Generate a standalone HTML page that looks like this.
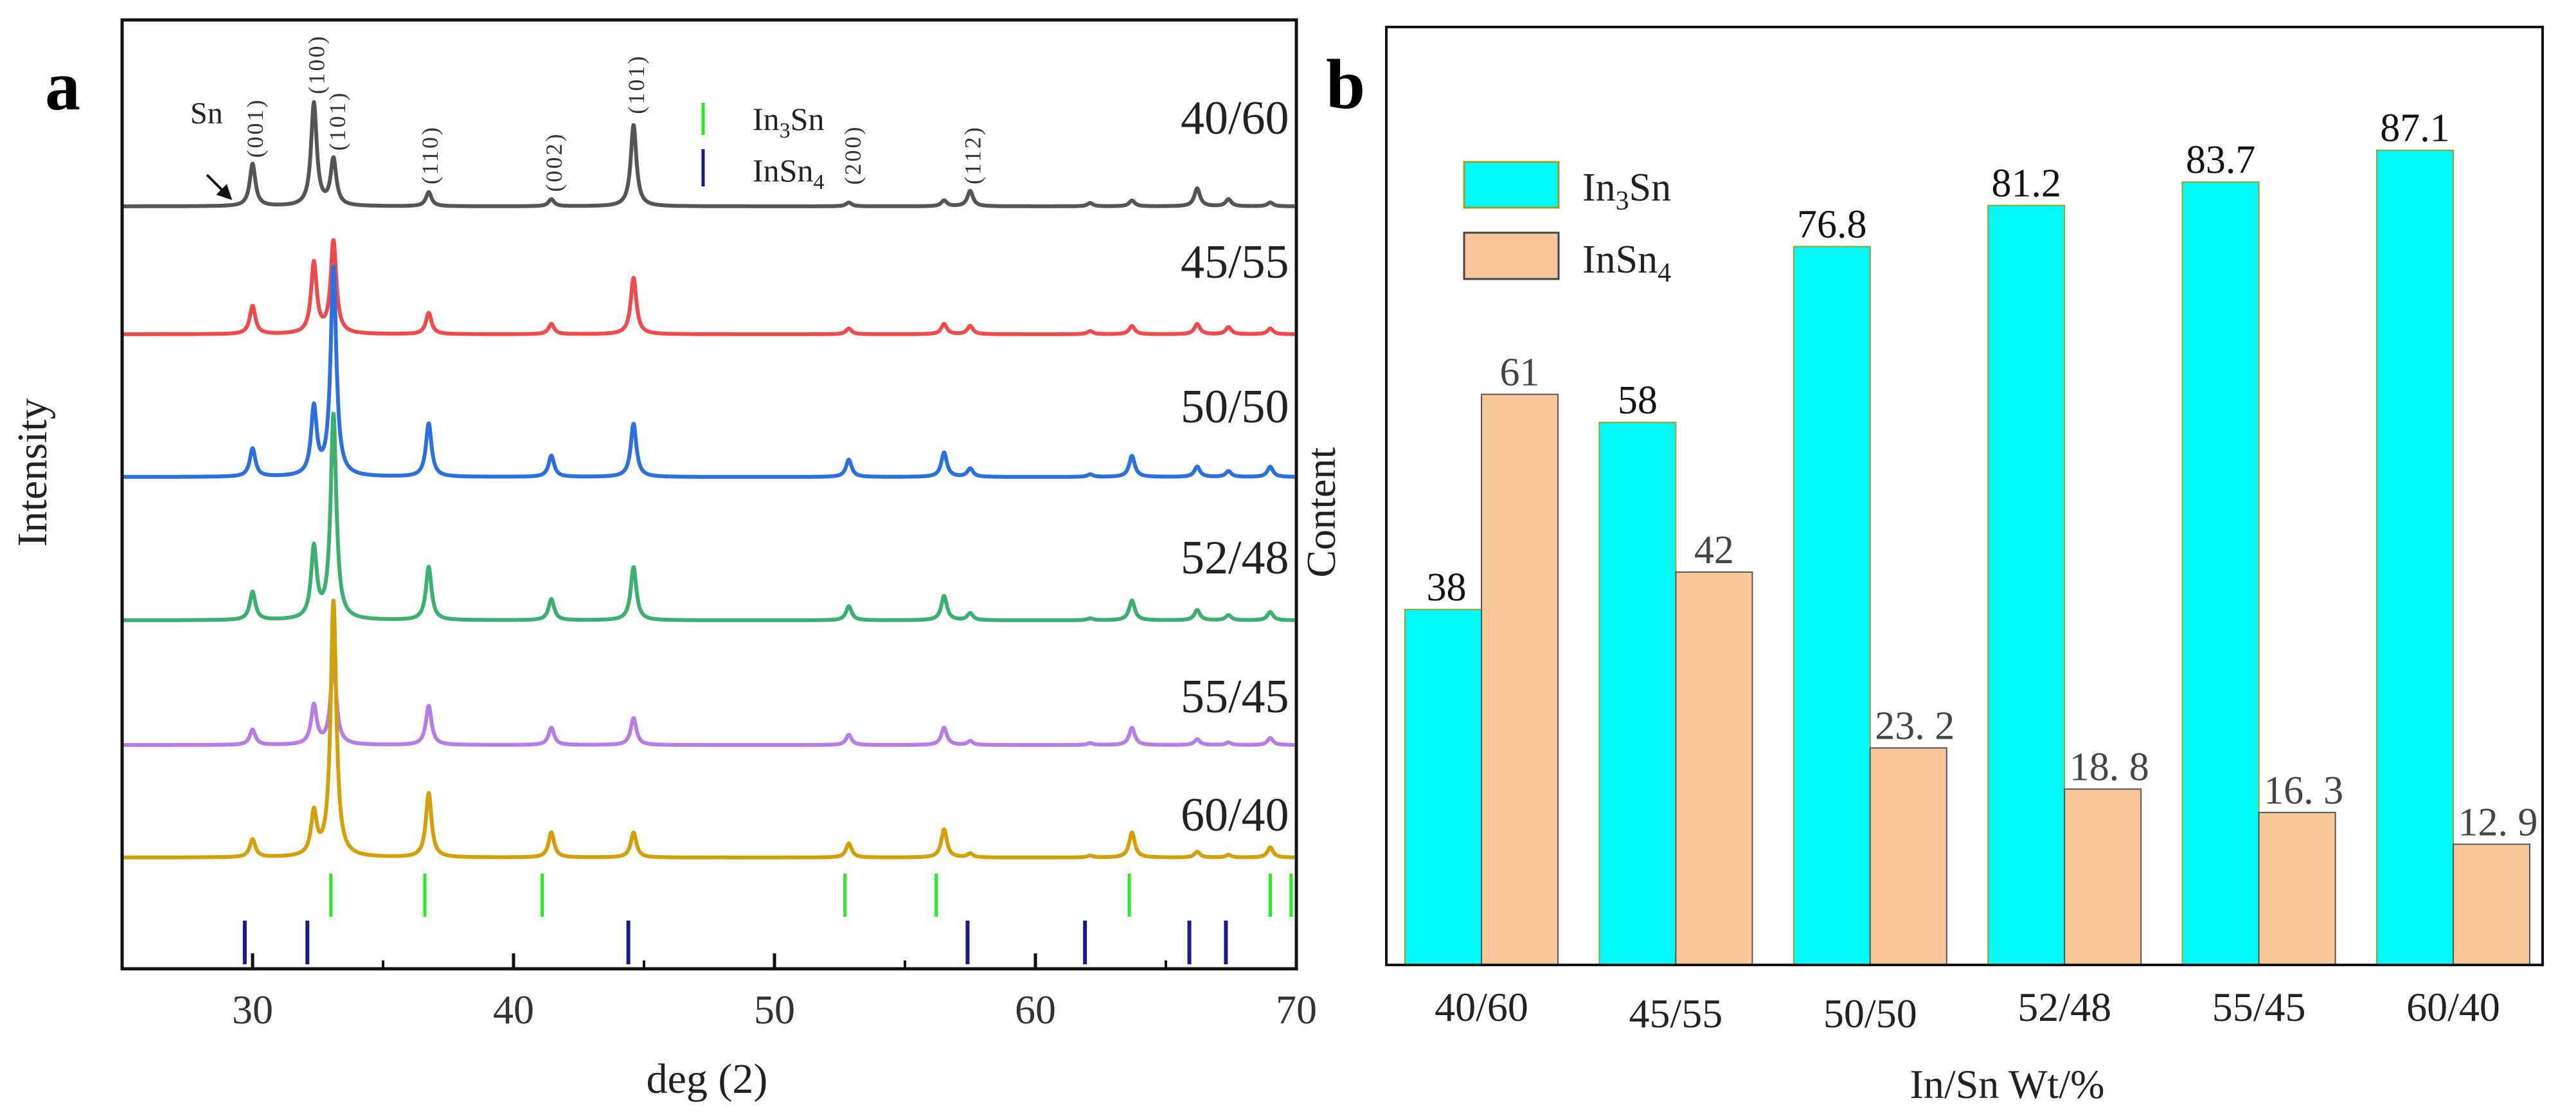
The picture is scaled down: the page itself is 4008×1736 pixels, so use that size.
<!DOCTYPE html>
<html><head><meta charset="utf-8"><style>
html,body{margin:0;padding:0;background:#fff;}
svg{display:block;font-family:"Liberation Serif","DejaVu Serif",serif;}
</style></head><body>
<svg id="fig" width="4008" height="1736" viewBox="0 0 4008 1736" xmlns="http://www.w3.org/2000/svg">
<rect x="0" y="0" width="4008" height="1736" fill="#fff"/>
<g id="pa"></g>
<g id="pb"></g>
</svg>
<script>
// ---------- Panel a data ----------
const xrdSamples = ["40/60","45/55","50/50","52/48","55/45","60/40"];
const xrdColors = ["#555555","#f04a4c","#2b6fe0","#3cb070","#b77de6","#d4a008"];
const xrdBaselines = [321,520,742,965,1159,1334];
const xrdPeakPos = [30.0,32.35,33.1,36.75,41.45,44.6,52.85,56.5,57.5,62.1,63.7,66.2,67.4,69.0];
const xrdPeaks0 = [66,160,72,22,11,127,6,9,24,5,9,28,11,6];
const xrdPeaks1 = [44,110,144,33,16,88,9,16,13,5,13,16,11,9];
const xrdPeaks2 = [44,105,326,83,33,83,27,38,13,4,33,16,9,16];
const xrdPeaks3 = [44,110,320,83,33,83,22,38,11,3,31,16,8,13];
const xrdPeaks4 = [24,61,130,61,27,42,16,27,6,3,27,9,4,11];
const xrdPeaks5 = [28,66,400,100,39,39,22,44,6,3,39,9,4,16];
const xrdTicksX = [30,40,50,60,70];
const in3snRefs = [33.0,36.6,41.1,52.7,56.2,63.6,69.0,69.8];
const insn4Refs = [29.7,32.1,44.4,57.4,61.9,65.9,67.3];
const millerLabels = ["(001)","(100)","(101)","(110)","(002)","(101)","(200)","(112)"];
const millerPos = [30.1,32.45,33.25,36.8,41.55,44.7,53.0,57.6];
const millerY = [199,100,188,241,252,131,241,241];
const sampleLabelY = [208,432,657,892,1108,1292];

// ---------- Panel b data ----------
const barCategories = ["40/60","45/55","50/50","52/48","55/45","60/40"];
const in3snValues = [38,58,76.8,81.2,83.7,87.1];
const insn4Values = [61,42,23.2,18.8,16.3,12.9];
const in3snLabels = ["38","58","76.8","81.2","83.7","87.1"];
const insn4Labels = ["61","42","23. 2","18. 8","16. 3","12. 9"];

const NS="http://www.w3.org/2000/svg";
function mk(parent,tag,attrs,text){const e=document.createElementNS(NS,tag);for(const k in attrs)e.setAttribute(k,attrs[k]);if(text!==undefined)e.textContent=text;parent.appendChild(e);return e;}

// ===== Panel a =====
const pa=document.getElementById('pa');
const AX0=190,AX1=2017,AY0=31,AY1=1507;
const xa=d=>AX0+(d-25)/(70-25)*(AX1-AX0);
const ya=1.0;
const allPeaks=[xrdPeaks0,xrdPeaks1,xrdPeaks2,xrdPeaks3,xrdPeaks4,xrdPeaks5];
xrdSamples.forEach((s,i)=>{
  let d="";
  for(let t=25.05;t<=69.95;t+=0.02){
    let v=0;
    xrdPeakPos.forEach((p,j)=>{const g=0.13;const dx=t-p;v+=allPeaks[i][j]/(1+(dx*dx)/(g*g));});
    const X=xa(t),Y=xrdBaselines[i]-v*ya;
    d+=(d?"L":"M")+X.toFixed(1)+","+Y.toFixed(1);
  }
  const p=mk(pa,'path',{d:d,fill:'none',stroke:xrdColors[i],'stroke-width':6,'stroke-linejoin':'round'});
  
  
  const lab=mk(pa,'text',{x:1837,y:sampleLabelY[i],'font-size':74,fill:'#222'},s);
  
  
});
in3snRefs.forEach(r=>{const l=mk(pa,'line',{x1:xa(r),x2:xa(r),y1:1359,y2:1426,stroke:'#22ee22','stroke-width':5});
  });
insn4Refs.forEach(r=>{const l=mk(pa,'line',{x1:xa(r),x2:xa(r),y1:1432,y2:1500,stroke:'#1a1a90','stroke-width':6});
  });
millerLabels.forEach((m,i)=>{const X=xa(millerPos[i]),Y=millerY[i];
  const t=mk(pa,'text',{x:X,y:Y,'font-size':36,fill:'#333','text-anchor':'middle','dominant-baseline':'central',transform:`rotate(-90 ${X} ${Y})`,'letter-spacing':3},m);
  });
{const t=mk(pa,'text',{x:296,y:192,'font-size':48,fill:'#222'},'Sn');
 const a=mk(pa,'path',{d:'M322,272 L352,302 M340,302 L358,308 L352,290 Z',stroke:'#111','stroke-width':4,fill:'#111'});}
// legend a
{const l1=mk(pa,'line',{x1:1094,x2:1094,y1:160,y2:210,stroke:'#22ee22','stroke-width':5});
 const t1=mk(pa,'text',{x:1171,y:202,'font-size':50,fill:'#222'});
 t1.innerHTML='In<tspan font-size="34" dy="12">3</tspan><tspan dy="-12">Sn</tspan>';
 const l2=mk(pa,'line',{x1:1094,x2:1094,y1:232,y2:290,stroke:'#1a1a90','stroke-width':5});
 const t2=mk(pa,'text',{x:1171,y:282,'font-size':50,fill:'#222'});
 t2.innerHTML='InSn<tspan font-size="34" dy="12">4</tspan>';}
{const f=mk(pa,'rect',{x:AX0,y:AY0,width:AX1-AX0,height:AY1-AY0,fill:'none',stroke:'#111','stroke-width':5});}
xrdTicksX.forEach(v=>{const X=xa(v);
  const tk=mk(pa,'line',{x1:X,x2:X,y1:AY1,y2:AY1-24,stroke:'#111','stroke-width':5});
  const t=mk(pa,'text',{x:X,y:1592,'font-size':64,'text-anchor':'middle',fill:'#333'},String(v));
  if(v<70){const m=mk(pa,'line',{x1:xa(v+5),x2:xa(v+5),y1:AY1,y2:AY1-13,stroke:'#111','stroke-width':4});}});
{const t=mk(pa,'text',{x:1100,y:1700,'font-size':66,'text-anchor':'middle',fill:'#222'},'deg (2)');
 const y=mk(pa,'text',{x:72,y:735,'font-size':66,'text-anchor':'middle',fill:'#222',transform:'rotate(-90 72 735)'},'Intensity');
 const a=mk(pa,'text',{x:70,y:170,'font-size':110,'font-weight':'bold',fill:'#000'},'a');}

// ===== Panel b =====
const pb=document.getElementById('pb');
const BX0=2157,BX1=3956,BY0=42,BY1=1501;
const yb=v=>BY1-v*14.55;
const groupCenter=i=>2305+i*302.4;
const BW=119;
barCategories.forEach((c,i)=>{
  const cx=groupCenter(i);
  const r1=mk(pb,'rect',{x:cx-BW,y:yb(in3snValues[i]),width:BW,height:BY1-yb(in3snValues[i]),fill:'#00fafa',stroke:'#a0a020','stroke-width':2});
  
  const r2=mk(pb,'rect',{x:cx,y:yb(insn4Values[i]),width:BW,height:BY1-yb(insn4Values[i]),fill:'#f9c899',stroke:'#555','stroke-width':2});
  
  const t1=mk(pb,'text',{x:cx-BW/2+(i===0?5:0),y:yb(in3snValues[i])-14,'font-size':62,'text-anchor':'middle',fill:'#111'},in3snLabels[i]);
  
  const t2=mk(pb,'text',{x:cx+BW/2+(i>=2?10:0),y:yb(insn4Values[i])-14,'font-size':62,'text-anchor':'middle',fill:'#444'},insn4Labels[i]);
  
  const cl=mk(pb,'text',{x:cx,y:(i===1||i===2)?1598:1588,'font-size':64,'text-anchor':'middle',fill:'#222'},c);
  
});
{const f=mk(pb,'rect',{x:BX0,y:BY0,width:BX1-BX0,height:BY1-BY0,fill:'none',stroke:'#111','stroke-width':4});
 const t=mk(pb,'text',{x:3123,y:1708,'font-size':64,'text-anchor':'middle',fill:'#222'},'In/Sn Wt/%');
 const y=mk(pb,'text',{x:2077,y:797,'font-size':64,'text-anchor':'middle',fill:'#222',transform:'rotate(-90 2077 797)'},'Content');
 const b=mk(pb,'text',{x:2063,y:168,'font-size':110,'font-weight':'bold',fill:'#000'},'b');
 const l1=mk(pb,'rect',{x:2278,y:252,width:147,height:71,fill:'#00fafa',stroke:'#a0a020','stroke-width':3});
 const l2=mk(pb,'rect',{x:2278,y:362,width:147,height:72,fill:'#f9c899',stroke:'#444','stroke-width':3});
 const t1=mk(pb,'text',{x:2462,y:312,'font-size':62,fill:'#222'});
 t1.innerHTML='In<tspan font-size="42" dy="14">3</tspan><tspan dy="-14">Sn</tspan>';
 const t2=mk(pb,'text',{x:2462,y:424,'font-size':62,fill:'#222'});
 t2.innerHTML='InSn<tspan font-size="42" dy="14">4</tspan>';}
</script>
</body></html>
